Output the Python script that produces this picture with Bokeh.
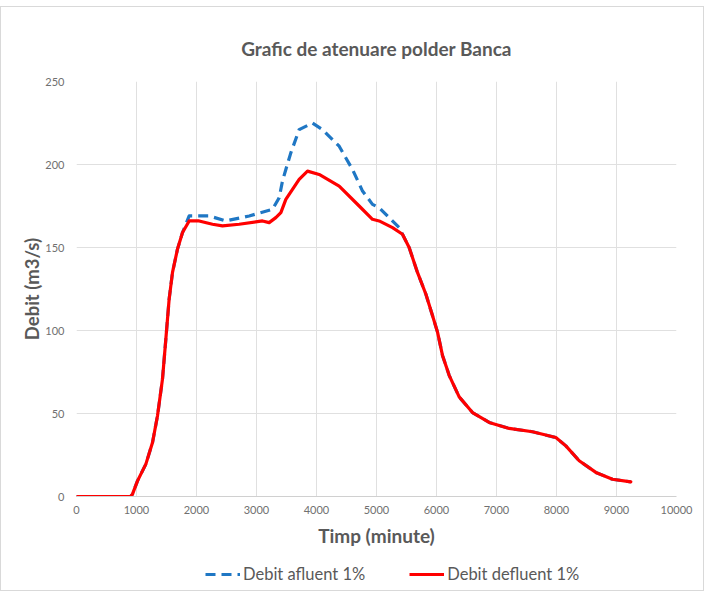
from bokeh.plotting import figure
from bokeh.layouts import column
from bokeh.models import Range1d, FixedTicker, Legend, LegendItem
from bokeh.embed import file_html
from bokeh.resources import INLINE

title_text = "Grafic de atenuare polder Banca"
x_label = "Timp (minute)"
y_label = "Debit (m3/s)"
name_in = "Debit afluent 1%"
name_out = "Debit defluent 1%"

x_ticks = [0, 1000, 2000, 3000, 4000, 5000, 6000, 7000, 8000, 9000, 10000]
y_ticks = [0, 50, 100, 150, 200, 250]

time_out = [0, 900, 933, 1017, 1156, 1267, 1350, 1433, 1489, 1544, 1600, 1683, 1767, 1878,
            2044, 2267, 2433, 2711, 3100, 3211, 3322, 3406, 3489, 3711, 3850, 4044, 4378,
            4711, 4933, 5044, 5267, 5433, 5544, 5683, 5822, 5933, 6017, 6100, 6211, 6378,
            6600, 6878, 7211, 7600, 7989, 8156, 8378, 8656, 8933, 9239]
q_out = [0, 0, 1.4, 9.4, 19.5, 32.5, 48.6, 70.7, 94.8, 118.9, 135, 149, 159, 166,
         166, 164, 163, 164, 166, 165, 168, 171, 179, 191, 196, 194, 187,
         175, 167, 166, 162, 158, 150, 135, 122, 109, 99, 85, 73, 60,
         50.6, 44.6, 41, 39, 35.5, 30.5, 21.5, 14.5, 10.4, 8.8]

time_in = [0, 900, 933, 1017, 1156, 1267, 1350, 1433, 1489, 1544, 1600, 1683, 1767, 1878,
           2211, 2489, 2878, 3267, 3378, 3433, 3489, 3572, 3711, 3933, 4100, 4378, 4600,
           4767, 4933, 5044, 5211, 5378, 5433, 5544, 5683, 5822, 5933, 6017, 6100, 6211,
           6378, 6600, 6878, 7211, 7600, 7989, 8156, 8378, 8656, 8933, 9239]
q_in = [0, 0, 1.4, 9.4, 19.5, 32.5, 48.6, 70.7, 94.8, 118.9, 135, 149, 159, 169,
        169, 166, 169, 173, 180, 190, 197, 207, 221, 225, 221, 211, 197,
        184, 176, 174, 168, 162, 158, 150, 135, 122, 109, 99, 85, 73,
        60, 50.6, 44.6, 41, 39, 35.5, 30.5, 21.5, 14.5, 10.4, 8.8]

FONT = "Lato"
GRAY = "#595959"
BLUE = "#1f77c4"
RED = "#ff0000"

p = figure(width=702, height=551, output_backend="svg", toolbar_location=None,
           x_range=Range1d(0, 10000), y_range=Range1d(0, 250),
           min_border_left=75, min_border_right=27, min_border_top=74, min_border_bottom=62)

p.title.text = title_text
p.title.align = "center"
p.title.text_font = FONT
p.title.text_font_size = "19px"
p.title.text_font_style = "bold"
p.title.text_color = GRAY
p.title.offset = 0
p.title.standoff = 44

p.outline_line_color = None
p.background_fill_color = "white"
p.border_fill_color = "white"

p.xaxis.ticker = FixedTicker(ticks=x_ticks)
p.yaxis.ticker = FixedTicker(ticks=y_ticks)
for ax in (p.xaxis[0], p.yaxis[0]):
    ax.major_tick_line_color = None
    ax.minor_tick_line_color = None
    ax.major_label_text_font = FONT
    ax.major_label_text_font_size = "11px"
    ax.major_label_text_color = "#707070"
    ax.axis_label_text_font = FONT
    ax.axis_label_text_font_style = "bold"
    ax.axis_label_text_color = GRAY
p.xaxis.axis_label = x_label
p.yaxis.axis_label = y_label
p.xaxis.axis_label_text_font_size = "19px"
p.yaxis.axis_label_text_font_size = "18.5px"
p.xaxis.axis_line_color = "#d0d0d0"
p.yaxis.axis_line_color = None
p.xaxis.major_label_standoff = 3
p.yaxis.major_label_standoff = 6
p.xaxis.axis_label_standoff = 7
p.yaxis.axis_label_standoff = -1

p.xgrid.ticker = FixedTicker(ticks=x_ticks)
p.ygrid.ticker = FixedTicker(ticks=y_ticks)
p.grid.grid_line_color = "#e0e0e0"
p.grid.grid_line_width = 1

p.line(time_in, q_in, line_color=BLUE, line_width=3.2, line_dash="10 6", line_join="round")
p.line(time_out, q_out, line_color=RED, line_width=3.2, line_join="round", line_cap="round")

# legend strip: same series, drawn out of its visible range so that only the legend shows
pl = figure(width=702, height=32, output_backend="svg", toolbar_location=None,
            x_range=Range1d(0, 10000), y_range=Range1d(1000, 2000),
            x_axis_location=None, y_axis_location=None,
            min_border_left=0, min_border_right=0, min_border_top=0, min_border_bottom=0)
pl.grid.visible = False
pl.outline_line_color = None
pl.background_fill_color = "white"
pl.border_fill_color = "white"
l_in = pl.line(time_in, q_in, line_color=BLUE, line_width=3.2, line_dash="10 6")
l_out = pl.line(time_out, q_out, line_color=RED, line_width=3.2)

legend = Legend(items=[LegendItem(label=name_in, renderers=[l_in]),
                       LegendItem(label=name_out, renderers=[l_out])],
                orientation="horizontal", location=(129, 6),
                label_text_font=FONT, label_text_font_size="16.5px", label_text_color=GRAY,
                glyph_width=35, glyph_height=14, label_standoff=3, spacing=44,
                background_fill_alpha=0, border_line_color=None, padding=4, margin=0)
pl.add_layout(legend, "center")

layout = column(p, pl, spacing=0,
                styles={"border": "1px solid #d9d9d9", "margin-top": "6px"})

open("out.html", "w").write(file_html(layout, INLINE))
